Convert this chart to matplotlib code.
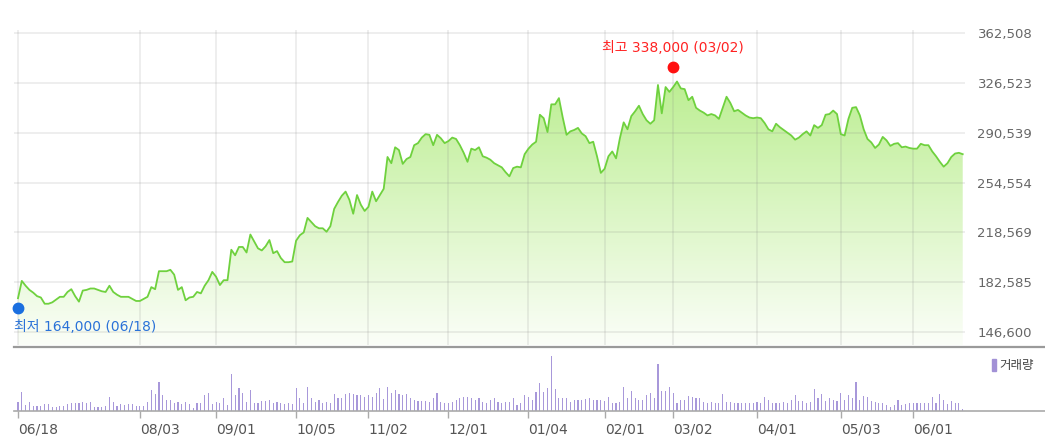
import numpy as np
import pandas as pd
import matplotlib
matplotlib.use('Agg')
import matplotlib.pyplot as plt
from matplotlib.patches import Polygon, Rectangle
from matplotlib.lines import Line2D
from matplotlib.colors import to_rgb

plt.rcParams['font.family'] = ['DejaVu Sans', 'Noto Sans CJK KR']

# trading calendar (KRX holidays removed)
holidays = ['2020-08-17', '2020-09-30', '2020-10-01', '2020-10-02', '2020-10-09',
            '2020-12-25', '2020-12-31', '2021-01-01', '2021-02-11', '2021-02-12',
            '2021-03-01', '2021-05-05', '2021-05-19']
dates = pd.bdate_range('2020-06-18', '2021-06-18')
dates = dates[~dates.isin(pd.to_datetime(holidays))]

# daily close (won)
close = [
    171000, 183500, 180000, 177000, 175000, 172500, 171500, 167000, 167000, 168000,
    170000, 172000, 172000, 175500, 177500, 172500, 168500, 176500, 177000, 178000,
    178000, 177000, 176000, 175500, 180000, 175500, 173500, 172000, 172000, 172000,
    170500, 169000, 169000, 170500, 172000, 179000, 177500, 190500, 190500, 190500,
    191500, 188000, 177000, 179000, 169500, 171500, 172000, 175500, 174500, 180000,
    184000, 190000, 186500, 180500, 184000, 184000, 206000, 202000, 208000, 208000,
    204000, 217000, 212000, 207000, 205500, 208500, 213000, 203500, 205000, 200000,
    197000, 197000, 197500, 212500, 216500, 218500, 229000, 226000, 223000, 221500,
    221500, 219000, 223000, 235500, 240500, 245000, 248000, 242000, 232000, 245500,
    238500, 234000, 237000, 248000, 241000, 245500, 250000, 273000, 268500, 280000,
    278000, 268000, 271500, 273000, 281500, 283000, 287000, 289500, 289000, 281500,
    289000, 286500, 283000, 284500, 287000, 286000, 281500, 276000, 269500, 279000,
    278000, 280000, 273500, 272500, 271000, 268500, 267000, 265500, 262000, 259000,
    265000, 266000, 265500, 275000, 279000, 282000, 284000, 303500, 301000, 291000,
    311000, 311000, 315500, 301500, 289000, 291500, 292500, 294000, 290000, 288000,
    283000, 284000, 273500, 261500, 264500, 273500, 277000, 272000, 286500, 298000,
    293000, 302500, 306000, 310000, 304000, 299500, 297000, 299500, 325000, 304500,
    323500, 320000, 323500, 327500, 322500, 322000, 314000, 316500, 308500, 306500,
    305000, 303000, 304000, 303000, 300500, 308500, 316500, 312000, 306000, 307000,
    305000, 303000, 301500, 301000, 301500, 301000, 297500, 293000, 291500, 297000,
    294500, 292500, 290500, 288500, 285500, 287000, 289500, 291500, 288500, 296000,
    294000, 296000, 303500, 304000, 306500, 304000, 289500, 288500, 300500, 308500,
    309000, 303000, 293000, 286000, 283500, 279500, 282000, 287500, 285000, 281000,
    282500, 283000, 280000, 280500, 279500, 279000, 279000, 282500, 281500, 281500,
    277000, 273500, 269500, 266000, 268500, 273000, 275500, 276000, 275000,
]

# daily volume (thousand shares)
volume = [
    186, 374, 120, 186, 106, 106, 106, 134, 134, 86,
    86, 106, 106, 134, 154, 154, 154, 186, 154, 186,
    86, 86, 86, 106, 274, 186, 106, 134, 120, 134,
    134, 106, 106, 106, 186, 420, 340, 586, 320, 220,
    220, 154, 186, 134, 186, 140, 66, 154, 154, 320,
    366, 134, 186, 154, 254, 120, 734, 320, 454, 354,
    186, 420, 154, 154, 206, 206, 220, 166, 186, 154,
    140, 154, 140, 454, 254, 154, 486, 254, 186, 220,
    154, 186, 166, 334, 266, 266, 334, 354, 334, 320,
    320, 286, 320, 274, 354, 454, 234, 486, 354, 420,
    334, 320, 334, 254, 220, 200, 200, 206, 186, 266,
    366, 186, 166, 154, 186, 220, 254, 286, 286, 254,
    220, 254, 186, 154, 220, 254, 186, 166, 186, 186,
    254, 120, 154, 320, 286, 220, 386, 554, 386, 454,
    1100, 434, 254, 254, 254, 186, 220, 220, 220, 234,
    254, 220, 220, 220, 206, 274, 166, 166, 186, 486,
    254, 400, 254, 220, 220, 320, 354, 254, 940, 400,
    406, 486, 354, 154, 220, 220, 300, 274, 254, 254,
    186, 154, 186, 166, 154, 340, 174, 186, 166, 166,
    166, 166, 166, 154, 186, 166, 274, 220, 154, 166,
    166, 186, 166, 220, 314, 200, 200, 166, 186, 434,
    254, 340, 206, 254, 220, 200, 366, 220, 320, 254,
    586, 220, 300, 274, 200, 180, 166, 166, 120, 86,
    120, 220, 120, 134, 154, 154, 166, 154, 166, 154,
    274, 154, 334, 220, 140, 206, 154, 154, 34,
]

tick_dates = ['2020-06-18', '2020-08-03', '2020-09-01', '2020-10-05', '2020-11-02',
              '2020-12-01', '2021-01-04', '2021-02-01', '2021-03-02', '2021-04-01',
              '2021-05-03', '2021-06-01']
y_ticks = [146600, 182585, 218569, 254554, 290539, 326523, 362508]

high_value, high_date = 338000, '2021-03-02'
low_value, low_date = 164000, '2020-06-18'

x = np.arange(len(dates))
close = np.array(close)
pos = {d: i for i, d in enumerate(dates)}
tick_idx = [pos[pd.Timestamp(d)] for d in tick_dates]
tick_labels = [pd.Timestamp(d).strftime('%m/%d') for d in tick_dates]

W, H = 1045, 442
fig = plt.figure(figsize=(W / 100, H / 100), dpi=100)
fig.patch.set_facecolor('white')

# ---- price panel ----
ax = fig.add_axes([14 / W, 1 - 345 / H, 951 / W, 315 / H])
xlim = (-1.05, 248.6)
ylo, yhi = 137200, 364700
ax.set_xlim(*xlim)
ax.set_ylim(ylo, yhi)

# gradient fill under the line
top_c = np.array(to_rgb('#bcee92'))
bot_c = np.array(to_rgb('#fbfef8'))
t = np.linspace(0, 1, 256)[:, None]
grad = (top_c * (1 - t) + bot_c * t)[:, None, :]
im = ax.imshow(grad, extent=[xlim[0], xlim[1], ylo, 330000], aspect='auto',
               origin='upper', zorder=1, interpolation='bilinear')
verts = np.column_stack([np.r_[x, x[-1], x[0]], np.r_[close, ylo, ylo]])
clip = Polygon(verts, closed=True, facecolor='none', edgecolor='none')
ax.add_patch(clip)
im.set_clip_path(clip)

ax.plot(x, close, color='#6fd13e', lw=1.3, zorder=3, solid_joinstyle='round')

ax.set_yticks(y_ticks)
ax.set_yticklabels([f'{v:,}' for v in y_ticks])
ax.set_xticks(tick_idx)
ax.set_axisbelow('line')
ax.grid(True, color='#808080', alpha=0.15, lw=1.3)
ax.yaxis.tick_right()
ax.tick_params(axis='y', length=0, pad=9, labelsize=9.5, labelcolor='#666666')
ax.tick_params(axis='x', length=0, labelbottom=False)
for s in ax.spines.values():
    s.set_visible(False)

# high / low markers
hi = pos[pd.Timestamp(high_date)]
lo = pos[pd.Timestamp(low_date)]
ax.plot(hi, high_value, 'o', color='#ff1010', ms=7.5, zorder=5, clip_on=False)
ax.annotate(f'최고 {high_value:,} ({pd.Timestamp(high_date):%m/%d})', xy=(hi, high_value),
            xytext=(0, 14), textcoords='offset points', ha='center', va='center',
            color='#ff2222', fontsize=10)
ax.plot(lo, low_value, 'o', color='#1a6fe0', ms=7.5, zorder=5, clip_on=False)
ax.annotate(f'최저 {low_value:,} ({pd.Timestamp(low_date):%m/%d})', xy=(lo, low_value),
            xytext=(-3, -14), textcoords='offset points', ha='left', va='center',
            color='#2a72d8', fontsize=10, annotation_clip=False)

fig.add_artist(Line2D([14 / W, 1], [1 - 346.5 / H] * 2, color='#9a9a9a', lw=1.6))

# ---- volume panel ----
vax = fig.add_axes([14 / W, 1 - 411 / H, 951 / W, 61 / H])
vax.set_xlim(*xlim)
vax.set_ylim(0, 1220)
vax.bar(x, volume, width=0.3, color='#a898da', linewidth=0)
vax.set_yticks([])
vax.set_xticks(tick_idx)
vax.set_xticklabels(tick_labels)
for lab in vax.get_xticklabels():
    lab.set_horizontalalignment('left')
vax.tick_params(axis='x', length=5, color='#aaaaaa', width=1, pad=3,
                labelsize=10, labelcolor='#555555')
for s in vax.spines.values():
    s.set_visible(False)
fig.add_artist(Line2D([14 / W, 1], [1 - 411 / H] * 2, color='#aaaaaa', lw=1.2))

# legend
fig.add_artist(Rectangle((992 / W, 1 - 371 / H), 4 / W, 12 / H,
                         transform=fig.transFigure, color='#a291d6'))
fig.text(999 / W, 1 - 365 / H, '거래량', ha='left', va='center',
         fontsize=9, color='#444444')

fig.savefig('out.png', dpi=100, facecolor='white')
